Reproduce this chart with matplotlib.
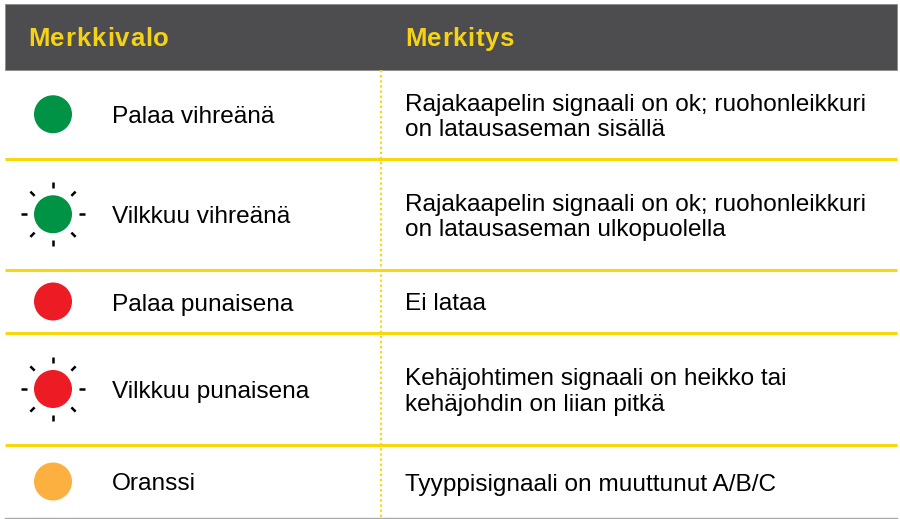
import numpy as np
import matplotlib.pyplot as plt
from matplotlib.patches import Circle, Rectangle

headers = ["Merkkivalo", "Merkitys"]
labels = ["Palaa vihreänä", "Vilkkuu vihreänä", "Palaa punaisena",
          "Vilkkuu punaisena", "Oranssi"]
meanings = [["Rajakaapelin signaali on ok; ruohonleikkuri", "on latausaseman sisällä"],
            ["Rajakaapelin signaali on ok; ruohonleikkuri", "on latausaseman ulkopuolella"],
            ["Ei lataa"],
            ["Kehäjohtimen signaali on heikko tai", "kehäjohdin on liian pitkä"],
            ["Tyyppisignaali on muuttunut A/B/C"]]
colors = ["#009245", "#009245", "#ed1c24", "#ed1c24", "#fbb03f"]
blinking = [False, True, False, True, False]

# row borders in pixels (header bottom first)
row_edges = [70, 158.5, 270, 333, 445, 518]

yellow = "#f7d80f"
font = "Liberation Sans"
fs = 17.55


def spaced_text(ax, x, y, s, track, **kw):
    # draw a string char by char with extra letter spacing (pixels)
    r = ax.figure.canvas.get_renderer()
    for k, ch in enumerate(s):
        if k > 0:
            t = ax.text(0, 0, s[:k], **kw)
            w = t.get_window_extent(r).width
            t.remove()
        else:
            w = 0
        ax.text(x + w + k * track, y, ch, **kw)


fig = plt.figure(figsize=(9, 5.19), dpi=100)
ax = fig.add_axes([0, 0, 1, 1])
ax.set_xlim(0, 900)
ax.set_ylim(519, 0)
ax.axis("off")

# header
ax.add_patch(Rectangle((5, 4), 892, 66, facecolor="#4d4d4f", edgecolor="#8c8c8c", lw=0.6))
hkw = dict(color="#f5d216", fontsize=18.5, fontweight="bold", family=font,
           va="baseline", ha="left")
spaced_text(ax, 28, 46, headers[0], 0.9, **hkw)
spaced_text(ax, 405, 46, headers[1], 0.6, **hkw)

# dotted column divider
ax.plot([381, 381], [70, 519], color=yellow, lw=1.6, ls=(0, (1, 1.3)))

for i in range(len(labels)):
    top, bot = row_edges[i], row_edges[i + 1]
    cy = (top + bot) / 2
    ax.add_patch(Circle((53, cy), 19, facecolor=colors[i], edgecolor="none"))
    if blinking[i]:
        for a in np.arange(0, 360, 45):
            r = np.deg2rad(a)
            ax.plot([53 + 26 * np.cos(r), 53 + 32 * np.cos(r)],
                    [cy + 26 * np.sin(r), cy + 32 * np.sin(r)],
                    color="black", lw=1.8, solid_capstyle="butt")
    ax.text(112, cy + 9, labels[i], fontsize=fs, family=font,
            va="baseline", ha="left", color="black")
    n = len(meanings[i])
    for j, line in enumerate(meanings[i]):
        off = (j - (n - 1) / 2) * 25
        ax.text(405, cy + 9 + off, line, fontsize=fs, family=font,
                va="baseline", ha="left", color="black")
    if i < len(labels) - 1:
        ax.plot([5, 897], [bot, bot], color=yellow, lw=2.2, solid_capstyle="butt")
    else:
        ax.plot([5, 897], [bot, bot], color="#aaaaaa", lw=1.0)

fig.savefig("out.png", dpi=100)
